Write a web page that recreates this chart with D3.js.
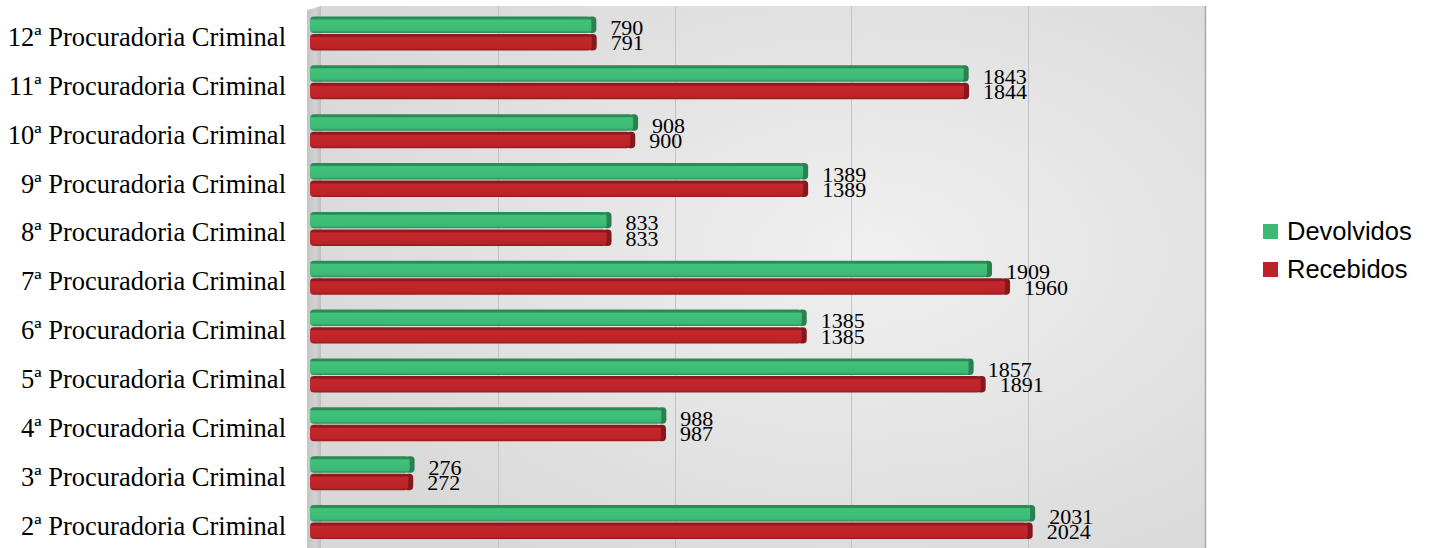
<!DOCTYPE html>
<html><head><meta charset="utf-8">
<script src="https://cdn.jsdelivr.net/npm/d3@7"></script>
<style>html,body{margin:0;padding:0;background:#fff;}svg{display:block;}</style>
</head><body>
<svg id="chart" width="1432" height="548"></svg>
<script>
const categories = ["12ª Procuradoria Criminal","11ª Procuradoria Criminal","10ª Procuradoria Criminal","9ª Procuradoria Criminal","8ª Procuradoria Criminal","7ª Procuradoria Criminal","6ª Procuradoria Criminal","5ª Procuradoria Criminal","4ª Procuradoria Criminal","3ª Procuradoria Criminal","2ª Procuradoria Criminal"];
const devolvidos = [790,1843,908,1389,833,1909,1385,1857,988,276,2031];
const recebidos = [791,1844,900,1389,833,1960,1385,1891,987,272,2024];
const xTicks = [0,500,1000,1500,2000,2500];
const seriesNames = ["Devolvidos","Recebidos"];

const svg = d3.select("#chart");
const defs = svg.append("defs");

const x = d3.scaleLinear().domain([0,2500]).range([321,1205]);
const y = d3.scaleBand().domain(categories).range([9,546.5]);
const sub = d3.scaleBand().domain(seriesNames).range([-17,17]).paddingInner(0.06);

// background gradient
const bg = defs.append("radialGradient").attr("id","bg").attr("cx","62%").attr("cy","45%").attr("r","70%");
bg.append("stop").attr("offset","0%").attr("stop-color","#f0f0f0");
bg.append("stop").attr("offset","100%").attr("stop-color","#d8d8d8");
const wall = defs.append("linearGradient").attr("id","wall").attr("x1","0").attr("x2","1");
wall.append("stop").attr("offset","0%").attr("stop-color","#c4c4c4");
wall.append("stop").attr("offset","60%").attr("stop-color","#d2d2d2");
wall.append("stop").attr("offset","100%").attr("stop-color","#bdbdbd");

function barGrad(id, dark, light, mid){
  const g = defs.append("linearGradient").attr("id",id).attr("x1","0").attr("x2","0").attr("y1","0").attr("y2","1");
  g.append("stop").attr("offset","0%").attr("stop-color",dark);
  g.append("stop").attr("offset","14%").attr("stop-color",dark);
  g.append("stop").attr("offset","22%").attr("stop-color",light);
  g.append("stop").attr("offset","85%").attr("stop-color",mid);
  g.append("stop").attr("offset","100%").attr("stop-color",dark);
}
barGrad("gGreen","#2c8a55","#41c27b","#3cba74");
barGrad("gRed","#8e1a1e","#c4272c","#bb2328");
const colors = {Devolvidos:{fill:"url(#gGreen)",cap:"#2a8150",legend:"#3cba74"}, Recebidos:{fill:"url(#gRed)",cap:"#86181c",legend:"#bb2328"}};

// back wall
svg.append("rect").attr("x",x(0)).attr("y",6).attr("width",x(2500)-x(0)).attr("height",548).attr("fill","url(#bg)");
svg.append("line").attr("x1",x(2500)+0.5).attr("x2",x(2500)+0.5).attr("y1",6).attr("y2",548).attr("stroke","#a8a8a8").attr("stroke-width",1.5);
// left wall
svg.append("path").attr("d",`M307,10 L${x(0)},6 L${x(0)},548 L307,548 Z`).attr("fill","url(#wall)");

// gridlines
svg.append("g").selectAll("line").data(xTicks.filter(t=>t>0 && t<2500)).join("line")
  .attr("x1",d=>Math.round(x(d))+0.5).attr("x2",d=>Math.round(x(d))+0.5)
  .attr("y1",6).attr("y2",548).attr("stroke","#c3c3c3").attr("stroke-width",1);

// bars
const rows = categories.map((c,i)=>({cat:c, vals:[{s:"Devolvidos",v:devolvidos[i]},{s:"Recebidos",v:recebidos[i]}]}));
const gRow = svg.append("g").selectAll("g").data(rows).join("g")
  .attr("transform",d=>`translate(0,${y(d.cat)+y.bandwidth()/2})`);
const x0 = 310, shift = 4;
const gb = gRow.selectAll("g").data(d=>d.vals).join("g");
gb.append("rect").attr("x",d=>x(d.v)-shift-9).attr("y",d=>sub(d.s)).attr("width",9).attr("height",sub.bandwidth())
  .attr("rx",4).attr("fill",d=>colors[d.s].cap);
gb.append("rect").attr("x",x0).attr("y",d=>sub(d.s)).attr("width",d=>x(d.v)-shift-5-x0).attr("height",sub.bandwidth())
  .attr("rx",4).attr("fill",d=>colors[d.s].fill);

// value labels
gb.append("text").attr("x",d=>x(d.v)-shift+14).attr("y",d=>d.s==="Devolvidos"?1.5:17)
  .attr("font-family","'Liberation Serif','Times New Roman',serif").attr("font-size",22).attr("fill","#000")
  .text(d=>d.v);

// category labels
gRow.append("text").attr("x",286).attr("y",12.5).attr("text-anchor","end")
  .attr("font-family","'Liberation Serif','Times New Roman',serif").attr("font-size",26.5).attr("fill","#000")
  .text(d=>d.cat);

// legend
const lg = svg.append("g").selectAll("g").data(seriesNames).join("g")
  .attr("transform",(d,i)=>`translate(1263,${224+i*38})`);
lg.append("rect").attr("width",15).attr("height",15).attr("fill",d=>colors[d].legend);
lg.append("text").attr("x",24).attr("y",16).attr("font-family","'Liberation Sans',Arial,sans-serif").attr("font-size",25.5).attr("fill","#000").text(d=>d);
</script>
</body></html>
